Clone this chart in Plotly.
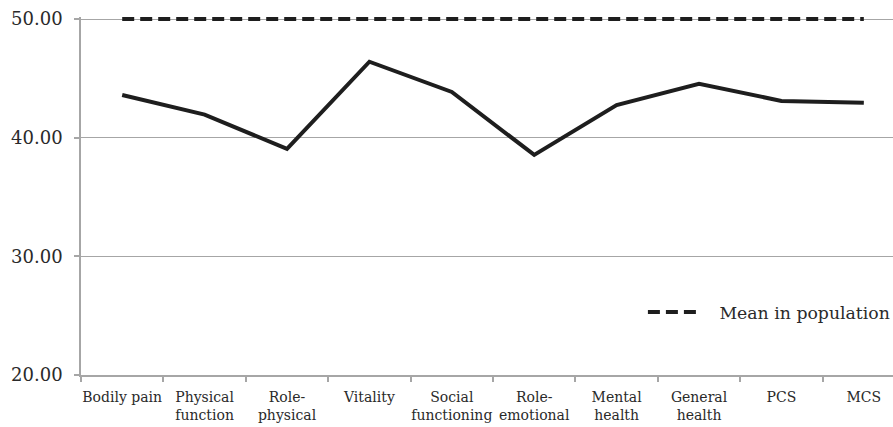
import plotly.graph_objects as go

categories = ["Bodily pain", "Physical<br>function", "Role-<br>physical", "Vitality",
              "Social<br>functioning", "Role-<br>emotional", "Mental<br>health",
              "General<br>health", "PCS", "MCS"]
patient_scores = [43.6, 41.95, 39.05, 46.4, 43.85, 38.55, 42.75, 44.55, 43.1, 42.95]
population_mean = [50, 50, 50, 50, 50, 50, 50, 50, 50, 50]
y_ticks = [20, 30, 40, 50]

ink = "#1e1e1e"
grid = "#a6a6a6"
serif = "DejaVu Serif, Liberation Serif, serif"

fig = go.Figure()
fig.add_trace(go.Scatter(
    x=categories, y=patient_scores, mode="lines",
    line=dict(color=ink, width=4), showlegend=False, cliponaxis=False))
fig.add_trace(go.Scatter(
    x=categories, y=population_mean, mode="lines",
    name="\u00a0\u00a0\u00a0Mean in population\u00a0",
    line=dict(color=ink, width=4, dash="12px,6px"), cliponaxis=False))

fig.update_layout(
    width=893, height=427,
    margin=dict(l=81, r=0, t=17, b=52, autoexpand=False),
    paper_bgcolor="white", plot_bgcolor="white",
    font=dict(family=serif, color="#2a2a2a"),
    legend=dict(x=0.692, y=0.175, xanchor="left", yanchor="middle",
                font=dict(size=17.3, family=serif, color="#2a2a2a"),
                itemwidth=50, bgcolor="rgba(0,0,0,0)", borderwidth=0),
)
fig.update_xaxes(
    type="category", categoryorder="array", categoryarray=categories,
    range=[-0.5, 9.354], showgrid=False, automargin=False,
    showline=True, linecolor=grid, linewidth=1.5,
    ticks="outside", tickson="boundaries", ticklen=5, tickcolor=grid, tickwidth=1.5,
    tickangle=0, ticklabelstandoff=8,
    tickfont=dict(size=14, family=serif, color="#2a2a2a"),
)
fig.update_yaxes(
    range=[20, 50.17], tickvals=y_ticks, tickformat=".2f", automargin=False,
    showgrid=True, gridcolor=grid, gridwidth=1.2,
    showline=True, linecolor=grid, linewidth=1.5,
    ticks="outside", ticklen=5, tickcolor=grid, tickwidth=1.5,
    ticklabelstandoff=8,
    tickfont=dict(size=18, family=serif, color="#2a2a2a"),
    zeroline=False,
)

page_fix = ("document.body.style.margin='0';"
            "document.body.style.overflow='hidden';"
            "document.documentElement.style.overflow='hidden';")

fig.write_html("out.html", post_script=page_fix, config={"displayModeBar": False})
